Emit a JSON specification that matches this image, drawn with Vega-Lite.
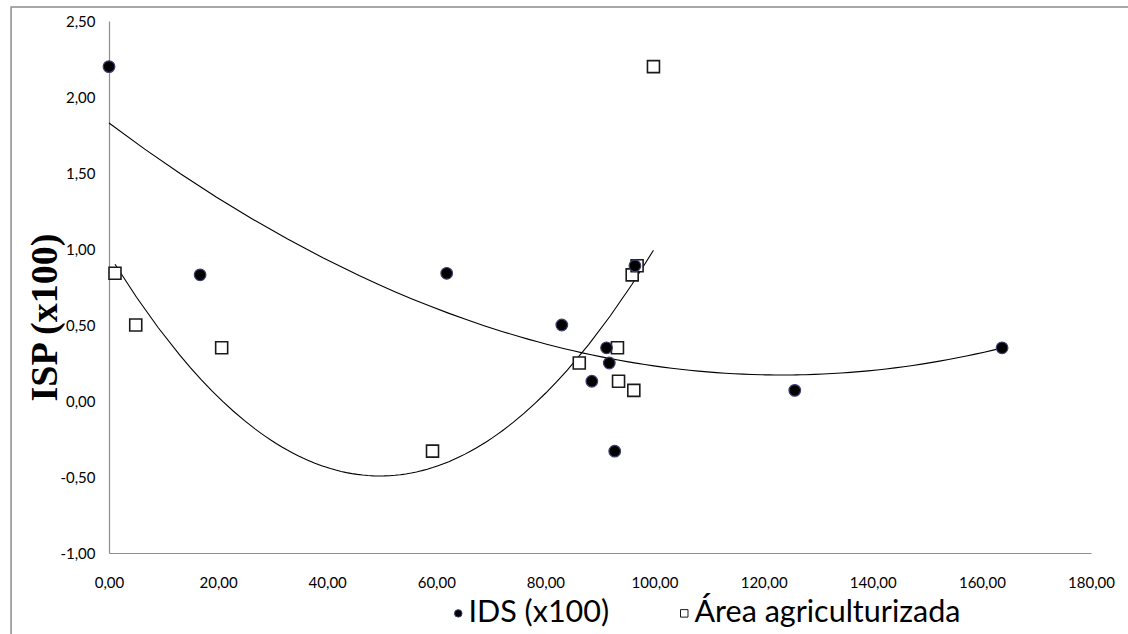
{
  "$schema": "https://vega.github.io/schema/vega-lite/v6.json",
  "width": 982,
  "height": 532,
  "autosize": {"type": "none"},
  "padding": {"left": 109, "top": 21, "right": 37, "bottom": 81},
  "background": "white",
  "config": {
    "view": {"stroke": null},
    "font": "Lato",
    "axis": {
      "grid": false,
      "ticks": false,
      "labelFlush": false,
      "labelOverlap": false,
      "domainColor": "#8e8e8e",
      "domainWidth": 1.2,
      "labelFont": "Lato",
      "labelFontSize": 15,
      "labelColor": "#000000"
    },
    "point": {"opacity": 1},
    "legend": {
      "orient": "none",
      "legendX": 334,
      "legendY": 577,
      "direction": "horizontal",
      "labelFont": "Lato",
      "labelFontSize": 30.5,
      "labelColor": "#000000",
      "symbolSize": 56,
      "symbolStrokeWidth": 1,
      "symbolOpacity": 1,
      "labelOffset": -5,
      "columnPadding": 59,
      "labelLimit": 0
    }
  },
  "data": {
    "values": [
      {"serie": "IDS (x100)", "x": 0.0, "isp": 2.20},
      {"serie": "IDS (x100)", "x": 16.7, "isp": 0.83},
      {"serie": "IDS (x100)", "x": 61.9, "isp": 0.84},
      {"serie": "IDS (x100)", "x": 83.0, "isp": 0.50},
      {"serie": "IDS (x100)", "x": 88.5, "isp": 0.13},
      {"serie": "IDS (x100)", "x": 91.2, "isp": 0.35},
      {"serie": "IDS (x100)", "x": 91.7, "isp": 0.25},
      {"serie": "IDS (x100)", "x": 92.7, "isp": -0.33},
      {"serie": "IDS (x100)", "x": 96.4, "isp": 0.89},
      {"serie": "IDS (x100)", "x": 125.7, "isp": 0.07},
      {"serie": "IDS (x100)", "x": 163.7, "isp": 0.35},
      {"serie": "Área agriculturizada", "x": 1.1, "isp": 0.84},
      {"serie": "Área agriculturizada", "x": 4.9, "isp": 0.50},
      {"serie": "Área agriculturizada", "x": 20.65, "isp": 0.35},
      {"serie": "Área agriculturizada", "x": 59.3, "isp": -0.33},
      {"serie": "Área agriculturizada", "x": 86.2, "isp": 0.25},
      {"serie": "Área agriculturizada", "x": 93.2, "isp": 0.35},
      {"serie": "Área agriculturizada", "x": 93.4, "isp": 0.13},
      {"serie": "Área agriculturizada", "x": 95.9, "isp": 0.83},
      {"serie": "Área agriculturizada", "x": 96.2, "isp": 0.07},
      {"serie": "Área agriculturizada", "x": 96.8, "isp": 0.89},
      {"serie": "Área agriculturizada", "x": 99.8, "isp": 2.20}
    ]
  },
  "layer": [
    {
      "data": {"values": [{}]},
      "mark": {"type": "rect", "fill": null, "stroke": "#8c8c8c", "strokeWidth": 1.5, "clip": false},
      "encoding": {
        "x": {"datum": -17.95, "type": "quantitative", "scale": {"domain": [0, 180], "nice": false, "zero": false},
          "axis": {"title": null, "values": [0, 20, 40, 60, 80, 100, 120, 140, 160, 180], "labelPadding": 22,
            "labelExpr": "replace(format(datum.value, '.2f'), '.', ',')"}},
        "x2": {"datum": 320},
        "y": {"datum": 2.592, "type": "quantitative", "scale": {"domain": [-1, 2.5], "nice": false, "zero": false},
          "axis": {"title": "ISP (x100)", "values": [-1, -0.5, 0, 0.5, 1, 1.5, 2, 2.5], "labelPadding": 14,
            "labelExpr": "replace(replace(format(datum.value, '.2f'), '.', ','), '−', '-')",
            "titleFont": "Liberation Serif", "titleFontWeight": "bold", "titleFontSize": 38, "titleColor": "#000000",
            "titleAngle": 270, "titleX": -64, "titleY": 296, "titleAlign": "center", "titleBaseline": "middle"}},
        "y2": {"datum": -2.6}
      }
    },
    {
      "transform": [
        {"regression": "isp", "on": "x", "method": "poly", "order": 2, "groupby": ["serie"]}
      ],
      "mark": {"type": "line", "color": "#000000", "strokeWidth": 1.1},
      "encoding": {
        "x": {"field": "x", "type": "quantitative"},
        "y": {"field": "isp", "type": "quantitative"},
        "detail": {"field": "serie"}
      }
    },
    {
      "transform": [{"filter": "datum.serie === 'Área agriculturizada'"}],
      "mark": {"type": "point", "filled": true, "size": 144, "strokeWidth": 1.6, "opacity": 1},
      "encoding": {
        "x": {"field": "x", "type": "quantitative"},
        "y": {"field": "isp", "type": "quantitative"},
        "shape": {"field": "serie", "type": "nominal", "title": null,
          "scale": {"domain": ["IDS (x100)", "Área agriculturizada"], "range": ["circle", "square"]}},
        "fill": {"field": "serie", "type": "nominal", "title": null,
          "scale": {"domain": ["IDS (x100)", "Área agriculturizada"], "range": ["#000000", "#ffffff"]}},
        "stroke": {"field": "serie", "type": "nominal", "title": null,
          "scale": {"domain": ["IDS (x100)", "Área agriculturizada"], "range": ["#3d3d70", "#1a1a1a"]}}
      }
    },
    {
      "transform": [{"filter": "datum.serie === 'IDS (x100)'"}],
      "mark": {"type": "point", "filled": true, "size": 135, "strokeWidth": 1.2, "opacity": 1},
      "encoding": {
        "x": {"field": "x", "type": "quantitative"},
        "y": {"field": "isp", "type": "quantitative"},
        "shape": {"field": "serie", "type": "nominal", "title": null},
        "fill": {"field": "serie", "type": "nominal", "title": null},
        "stroke": {"field": "serie", "type": "nominal", "title": null}
      }
    }
  ]
}
